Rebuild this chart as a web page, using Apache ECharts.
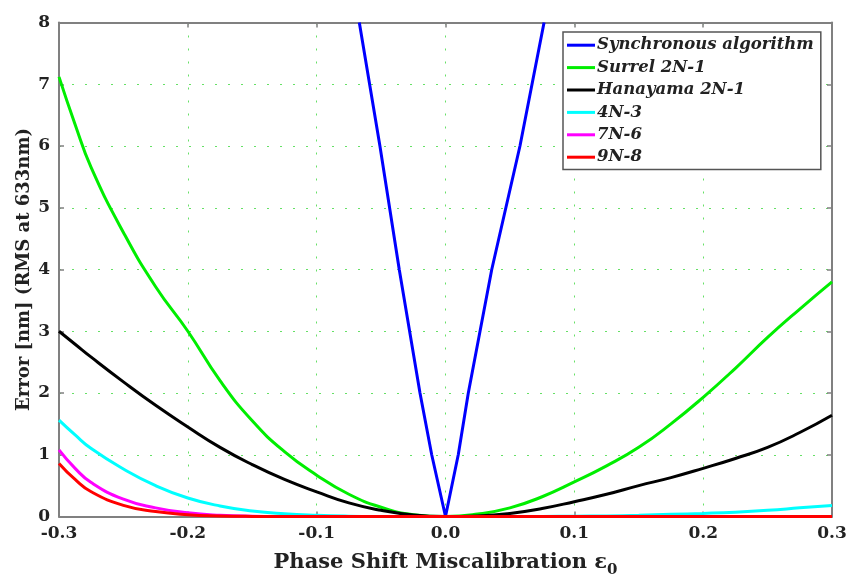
<!DOCTYPE html>
<html>
<head>
	<meta charset="utf-8" />
	<title>Phase shift miscalibration error</title>
	<script type="text/javascript" src="https://cdn.jsdelivr.net/npm/echarts@6/dist/echarts.min.js"></script>
	<style>
		html, body {margin:0;padding:0;background:#fff;}
		#chart {width:846px;height:581px;}
	</style>
</head>
<body>
	<div id="chart"></div>

	<script>
		// phase shift miscalibration (x) sample points shared by the smooth curves
		var eps = [-0.3, -0.2875, -0.275, -0.25, -0.225, -0.2, -0.175, -0.15, -0.125, -0.1, -0.075, -0.05, -0.025, 0,
			0.025, 0.05, 0.075, 0.1, 0.125, 0.15, 0.175, 0.2, 0.225, 0.25, 0.275, 0.3];

		var surrel   = [7.12, 6.35, 5.65, 4.6, 3.72, 3.0, 2.2, 1.55, 1.05, 0.67, 0.36, 0.15, 0.03, 0,
			0.04, 0.14, 0.32, 0.56, 0.82, 1.12, 1.5, 1.93, 2.4, 2.9, 3.36, 3.8];
		var hanayama = [3.0, 2.79, 2.58, 2.18, 1.8, 1.45, 1.12, 0.84, 0.6, 0.4, 0.22, 0.1, 0.025, 0,
			0.01, 0.05, 0.13, 0.24, 0.36, 0.5, 0.63, 0.78, 0.94, 1.12, 1.36, 1.64];
		var n4m3     = [1.56, 1.32, 1.1, 0.77, 0.5, 0.3, 0.17, 0.09, 0.045, 0.02, 0.006, 0.001, 0, 0,
			0, 0, 0.001, 0.004, 0.01, 0.02, 0.035, 0.05, 0.07, 0.1, 0.14, 0.18];
		var n7m6     = [1.08, 0.78, 0.55, 0.28, 0.14, 0.06, 0.02, 0.005, 0.001, 0, 0, 0, 0, 0,
			0, 0, 0, 0, 0, 0, 0, 0, 0, 0, 0, 0];
		var n9m8     = [0.86, 0.6, 0.4, 0.18, 0.08, 0.03, 0.01, 0.002, 0, 0, 0, 0, 0, 0,
			0, 0, 0, 0, 0, 0, 0, 0, 0, 0, 0, 0];

		// synchronous algorithm (V shape, own x points)
		var syncEps = [-0.0669, -0.0509, -0.0359, -0.0198, -0.0107, 0, 0.0099, 0.0177, 0.0359, 0.0578, 0.0765];
		var syncErr = [8, 6, 4, 2, 1, 0, 1, 2, 4, 6, 8];

		var names  = ['Synchronous algorithm', 'Surrel 2N-1', 'Hanayama 2N-1', '4N-3', '7N-6', '9N-8'];
		var colors = ['#0000ff', '#00ee00', '#000000', '#00ffff', '#ff00ff', '#ff0000'];

		var font = '"DejaVu Serif", "Liberation Serif", serif';

		function pairs(xs, ys) {
			return xs.map((x, i) => [x, ys[i]]);
		}

		var chart = echarts.init(document.getElementById('chart'));

		var gridLine = {
			show: true,
			lineStyle: {color: '#66e066', width: 1, type: [2, 11]}
		};
		var frameLine = {onZero: false, lineStyle: {color: '#808080', width: 2}};
		var frameTick = {inside: true, length: 5, lineStyle: {color: '#808080', width: 1.5}};

		var option = {
			animation: false,
			textStyle: {fontFamily: font},
			grid: {left: 59, right: 14, top: 22.5, bottom: 64.5, outerBoundsMode: 'none'},
			legend: {
				orient: 'vertical',
				left: 563,
				top: 32,
				padding: [2, 7, 1, 4],
				itemGap: 0,
				itemWidth: 28,
				itemHeight: 3,
				icon: 'rect',
				borderColor: '#555',
				borderWidth: 1.5,
				backgroundColor: '#fff',
				textStyle: {
					fontFamily: font,
					fontSize: 16.5,
					fontStyle: 'italic',
					fontWeight: 'bold',
					color: '#222',
					lineHeight: 22.4,
					padding: [0, 0, 0, -3]
				},
				data: names
			},
			xAxis: [
				{
					type: 'value',
					min: -0.3,
					max: 0.3,
					interval: 0.1,
					name: '{m|Phase Shift Miscalibration ε}{s|0}',
					nameLocation: 'middle',
					nameGap: 31,
					nameTextStyle: {
						rich: {
							m: {fontFamily: font, fontSize: 21, fontWeight: 'bold', color: '#222'},
							s: {fontFamily: font, fontSize: 15, fontWeight: 'bold', color: '#222', padding: [15, 0, 0, 0]}
						}
					},
					axisLine: frameLine,
					axisTick: frameTick,
					axisLabel: {
						margin: 9,
						fontFamily: font,
						fontSize: 17,
						fontWeight: 'bold',
						color: '#222',
						formatter: function(v) {
							return Math.abs(v) < 1e-9 ? '0.0' : v.toFixed(1);
						}
					},
					splitLine: gridLine
				},
				{
					type: 'value',
					position: 'top',
					min: -0.3,
					max: 0.3,
					interval: 0.1,
					axisLine: frameLine,
					axisTick: frameTick,
					axisLabel: {show: false},
					splitLine: {show: false}
				}
			],
			yAxis: [
				{
					type: 'value',
					min: 0,
					max: 8,
					interval: 1,
					name: 'Error [nm] (RMS at 633nm)',
					nameLocation: 'middle',
					nameGap: 26,
					nameMoveOverlap: false,
					nameTextStyle: {fontFamily: font, fontSize: 18, fontWeight: 'bold', color: '#222'},
					axisLine: frameLine,
					axisTick: frameTick,
					axisLabel: {margin: 9, fontFamily: font, fontSize: 17, fontWeight: 'bold', color: '#222'},
					splitLine: gridLine
				},
				{
					type: 'value',
					position: 'right',
					min: 0,
					max: 8,
					interval: 1,
					axisLine: frameLine,
					axisTick: frameTick,
					axisLabel: {show: false},
					splitLine: {show: false}
				}
			],
			series: [
				{name: names[0], data: pairs(syncEps, syncErr), smooth: false},
				{name: names[1], data: pairs(eps, surrel)},
				{name: names[2], data: pairs(eps, hanayama)},
				{name: names[3], data: pairs(eps, n4m3)},
				{name: names[4], data: pairs(eps, n7m6)},
				{name: names[5], data: pairs(eps, n9m8)}
			].map((s, i) => Object.assign({
				type: 'line',
				showSymbol: false,
				smooth: 0.5,
				clip: false,
				color: colors[i],
				lineStyle: {color: colors[i], width: 3},
				z: 2 + i
			}, s))
		};

		chart.setOption(option);
	</script>
</body>
</html>
